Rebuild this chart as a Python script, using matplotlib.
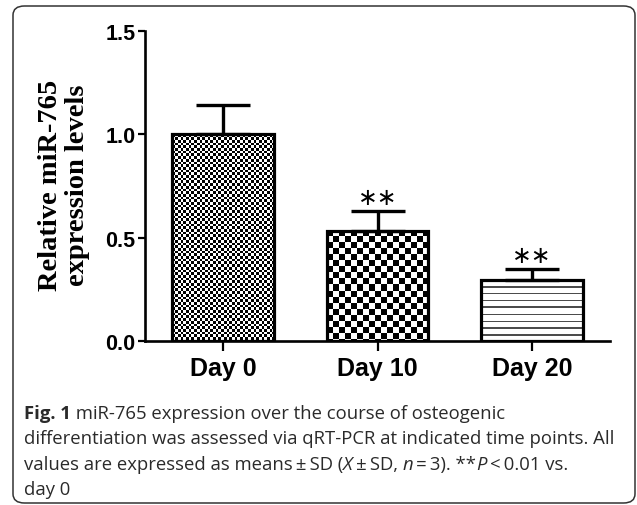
# -*- coding: utf-8 -*-
# miR-765 発現量の棒グラフ (図1)

import numpy as np
import matplotlib
matplotlib.use('Agg')
import matplotlib.pyplot as plt
from matplotlib.patches import FancyBboxPatch

# データ
days = ['Day 0', 'Day 10', 'Day 20']
expr = [1.00, 0.534, 0.297]
sd = [0.143, 0.096, 0.053]
stars = ['', '**', '**']
fills = ['fine', 'coarse', 'stripe']
yticks = [0.0, 0.5, 1.0, 1.5]

caption = [
    [('Fig. 1', 'bold', 'normal'), (' miR-765 expression over the course of osteogenic', 'normal', 'normal')],
    [('differentiation was assessed via qRT-PCR at indicated time points. All', 'normal', 'normal')],
    [('values are expressed as means\u2009\u00b1\u2009SD (', 'normal', 'normal'), ('X', 'normal', 'italic'),
     ('\u2009\u00b1\u2009SD, ', 'normal', 'normal'), ('n', 'normal', 'italic'),
     ('\u2009=\u20093). **', 'normal', 'normal'), ('P', 'normal', 'italic'),
     ('\u2009<\u20090.01 vs.', 'normal', 'normal')],
    [('day 0', 'normal', 'normal')],
]

W, H = 637, 506
fig = plt.figure(figsize=(W / 100, H / 100), dpi=100)
ax = fig.add_axes([145 / W, 1 - 342 / H, (610 - 145) / W, (342 - 32) / H])

x = np.arange(len(days))
bw = 0.66
xlim = (-0.505, 2.505)
ylim = (0, 1.5)
ax.set_xlim(xlim)
ax.set_ylim(ylim)


# 塗りつぶし模様 (ピクセル単位で作る)
def pattern(kind, w, h):
    yy, xx = np.mgrid[0:h, 0:w]
    if kind == 'fine':
        return ((xx // 2.7 + yy // 2.7) % 2).astype(float)
    if kind == 'coarse':
        return ((xx // 6.0 + yy // 6.0) % 2).astype(float)
    img = np.ones((h, w))
    img[(yy % 6.7) < 1.4] = 0.3
    return img


bars = ax.bar(x, expr, bw, facecolor='none', edgecolor='black', linewidth=2.3, zorder=3)
for b, kind in zip(bars, fills):
    x0, y0 = b.get_x(), 0
    x1, y1 = b.get_x() + b.get_width(), b.get_height()
    p0 = ax.transData.transform((x0, y0))
    p1 = ax.transData.transform((x1, y1))
    w = max(int(round(p1[0] - p0[0])), 1)
    h = max(int(round(p1[1] - p0[1])), 1)
    im = ax.imshow(pattern(kind, w, h), cmap='gray', vmin=0, vmax=1, extent=[x0, x1, y0, y1],
                   aspect='auto', interpolation='nearest', zorder=2)
    im.set_clip_path(b)

ax.errorbar(x, expr, yerr=[np.zeros(len(sd)), sd], fmt='none', ecolor='black',
            elinewidth=2.4, capsize=19.5, capthick=2.4, zorder=4)

for xi, v, e, s in zip(x, expr, sd, stars):
    if s:
        ax.text(xi, v + e + 0.065, '\u2217\u2217', ha='center', va='center', fontsize=17,
                family='DejaVu Sans', color='black')

ax.set_xlim(xlim)
ax.set_ylim(ylim)

for side in ['top', 'right']:
    ax.spines[side].set_visible(False)
for side in ['left', 'bottom']:
    ax.spines[side].set_linewidth(1.9)

ax.set_yticks(yticks)
ax.set_yticklabels(['%.1f' % t for t in yticks], family='Liberation Sans', fontweight='bold', fontsize=15.5)
ax.set_xticks(x)
ax.set_xticklabels(days, family='Liberation Sans', fontweight='bold', fontsize=18)
ax.tick_params(axis='y', direction='out', length=5, width=1.6, pad=2)
ax.tick_params(axis='x', direction='out', length=7.5, width=1.6, pad=3)

fig.text(64 / W, 1 - 185 / H, 'Relative miR-765\nexpression levels', rotation=90, ha='center', va='center',
         family='Liberation Serif', fontweight='bold', fontsize=20.5, linespacing=1.15)

# 枠線
frame = FancyBboxPatch((13 / W, 1 - 504 / H), (635 - 13) / W, (504 - 7) / H,
                       boxstyle='round,pad=0,rounding_size=0.018', transform=fig.transFigure,
                       facecolor='none', edgecolor='#333333', linewidth=1.1)
fig.patches.append(frame)

# キャプション (太字・斜体を並べて描く)
r = fig.canvas.get_renderer()


def text_width(s, weight, style, size):
    t1 = fig.text(0, 0, '|' + s + '|', fontsize=size, fontweight=weight, fontstyle=style, family='Open Sans')
    t2 = fig.text(0, 0, '||', fontsize=size, fontweight=weight, fontstyle=style, family='Open Sans')
    w = t1.get_window_extent(r).width - t2.get_window_extent(r).width
    t1.remove()
    t2.remove()
    return w


cap_size = 13.3
baselines = [419, 444.5, 470, 495.5]
for line, yb in zip(caption, baselines):
    xp = 24.0
    for s, weight, style in line:
        fig.text(xp / W, 1 - yb / H, s, fontsize=cap_size, fontweight=weight, fontstyle=style,
                 family='Open Sans', color='#2a2a2a', va='baseline', ha='left')
        xp += text_width(s, weight, style, cap_size)

fig.savefig('out.png', dpi=100)
